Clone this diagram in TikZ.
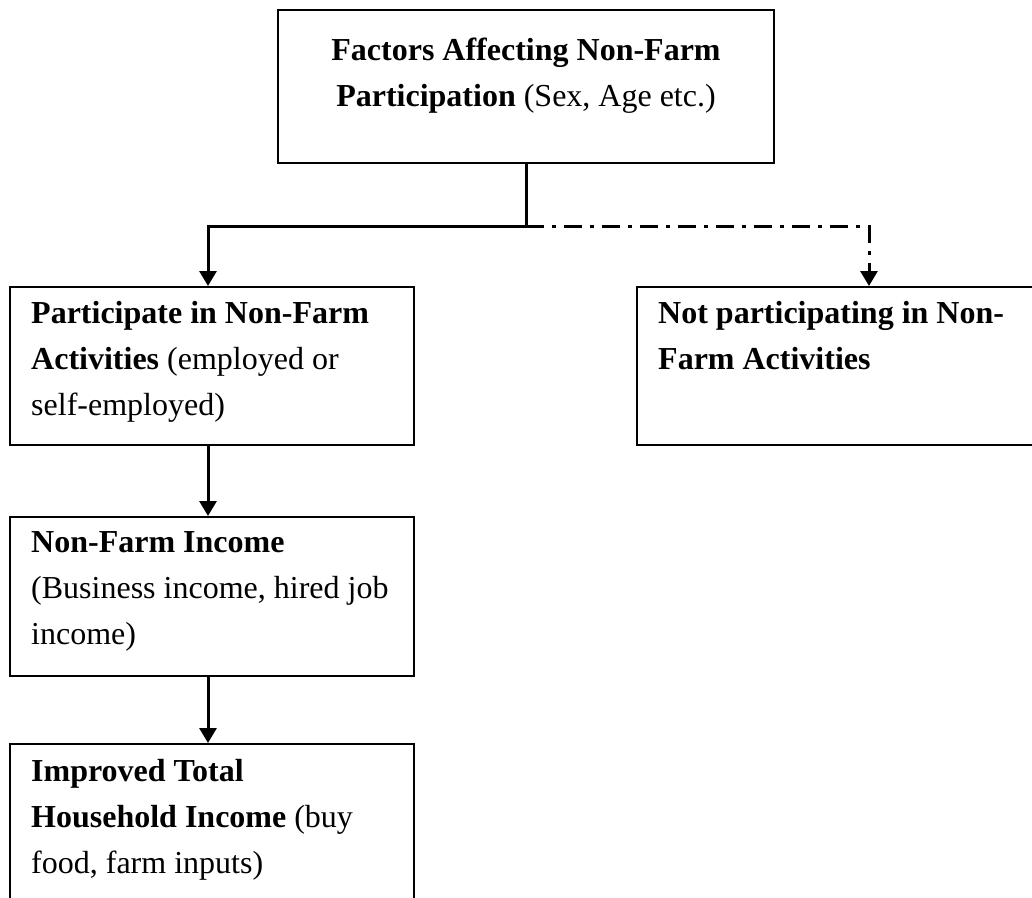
\documentclass[tikz,border=0pt]{standalone}
\usepackage{fontspec}
\setmainfont{Liberation Serif}
\usetikzlibrary{arrows.meta}
\begin{document}
\begin{tikzpicture}[x=1pt,y=-1pt,
  box/.style={draw, line width=2pt, inner sep=0pt, rectangle},
  txt/.style={inner sep=0pt, font=\fontsize{32}{46}\selectfont, align=left},
  conn/.style={line width=3pt},
  tip/.style={-{Triangle[width=17pt,length=15pt]}},
  dashdot/.style={dash pattern=on 18pt off 8pt on 4pt off 8pt}]
\useasboundingbox (0,0) rectangle (1032,897);
\clip (0,0) rectangle (1032,897);
\fill[white] (0,0) rectangle (1032,897);
% boxes
\node[box, minimum width=496pt, minimum height=153pt] (top) at (526,86.5) {};
\node[box, minimum width=404pt, minimum height=158pt] (left) at (211.5,366) {};
\node[box, minimum width=399pt, minimum height=158pt] (right) at (836.5,366) {};
\node[box, minimum width=404pt, minimum height=159pt] (nfi) at (211.5,596.5) {};
\node[box, minimum width=404pt, minimum height=166pt] (imp) at (211.5,827) {};
% texts
\node[txt, anchor=north, align=center] (toptxt) at (526,38)
  {\textbf{Factors Affecting Non-Farm}\\\textbf{Participation} (Sex, Age etc.)};
\node[txt, anchor=north west] (lefttxt) at (31,301)
  {\textbf{Participate in Non-Farm}\\\textbf{Activities} (employed or\\self-employed)};
\node[txt, anchor=north west] (righttxt) at (658,301)
  {\textbf{Not participating in Non-}\\\textbf{Farm Activities}};
\node[txt, anchor=north west] (nfitxt) at (31,531)
  {\textbf{Non-Farm Income}\\(Business income, hired job\\income)};
\node[txt, anchor=north west] (imptxt) at (31,759)
  {\textbf{Improved Total}\\\textbf{Household Income} (buy\\food, farm inputs)};
% connectors
\coordinate (jn) at (top.south |- 0,226);
\coordinate (la) at (208,226);
\coordinate (ra) at (869,226);
\draw[conn] (top.south) -- (jn);
\draw[conn,tip] (jn) -- (la) -- (la |- left.north);
\draw[conn,tip,dashdot] (jn) -- (ra) -- (ra |- right.north);
\draw[conn,tip] (la |- left.south) -- (la |- nfi.north);
\draw[conn,tip] (la |- nfi.south) -- (la |- imp.north);
\end{tikzpicture}
\end{document}
